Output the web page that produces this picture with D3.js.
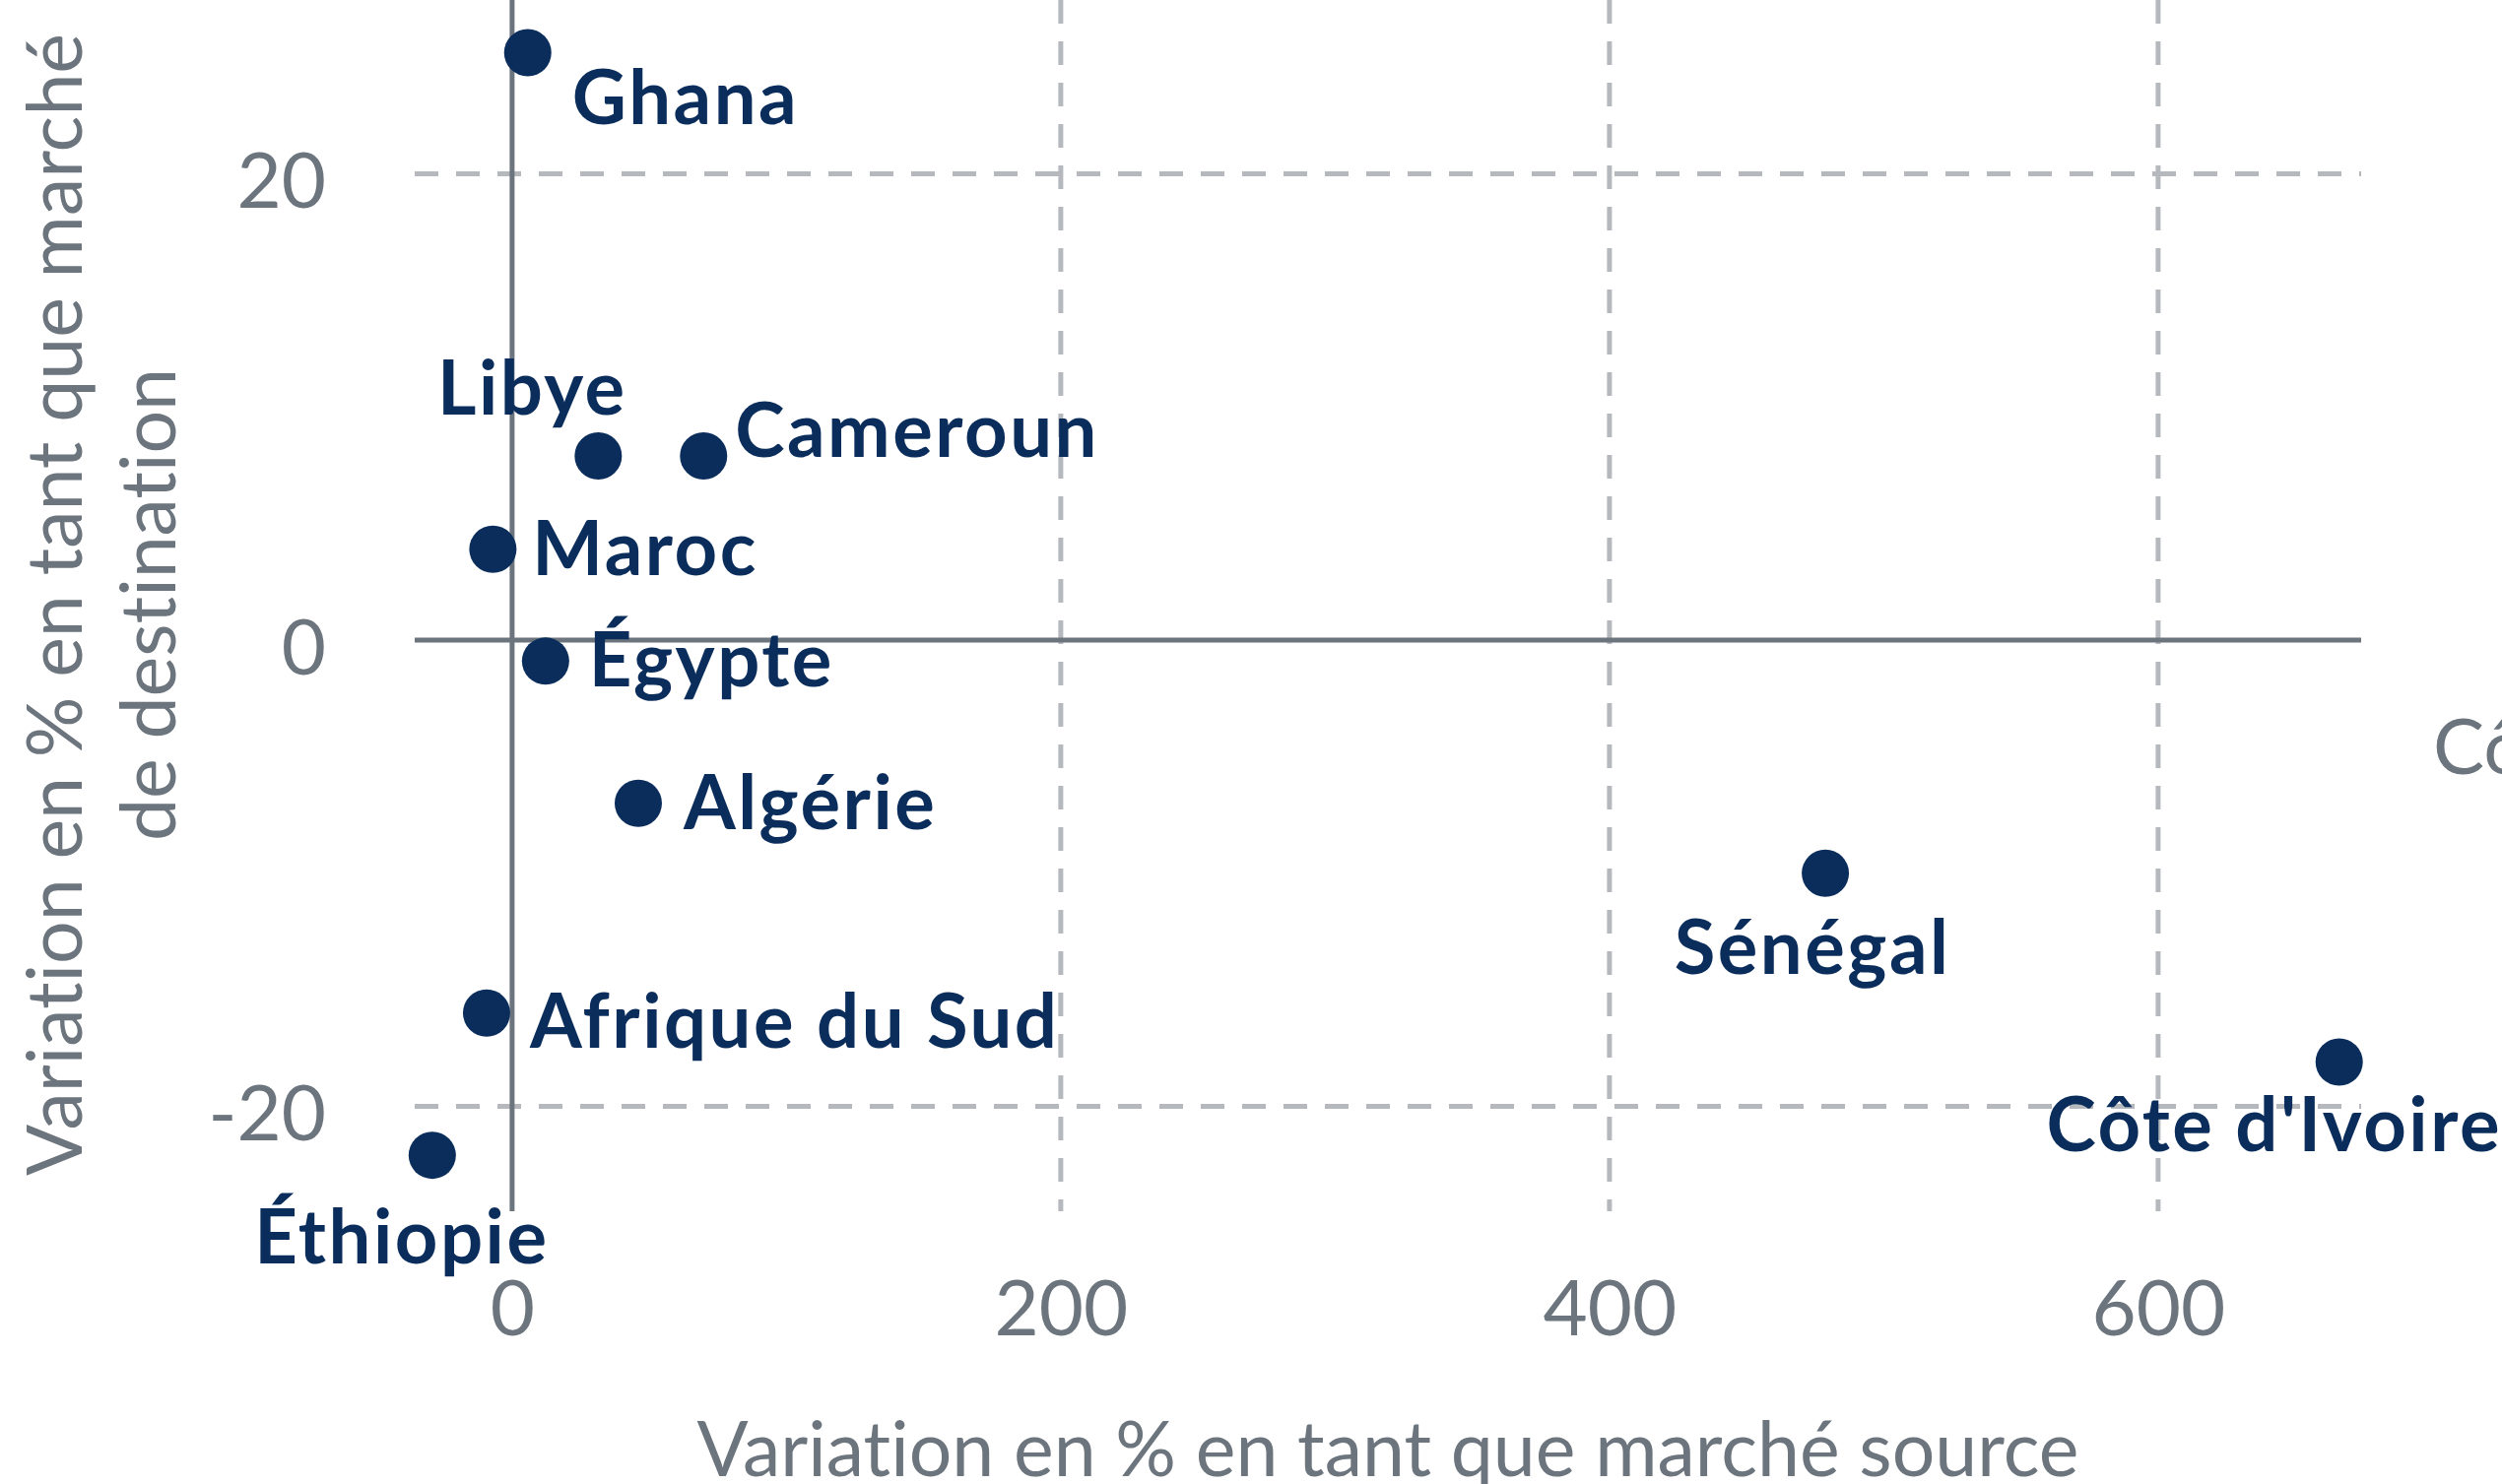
<!DOCTYPE html>
<html>
<head>
<meta charset="utf-8">
<script src="https://cdn.jsdelivr.net/npm/d3@7"></script>
<style>
  html, body { margin: 0; padding: 0; background: #fff; overflow: hidden; }
  svg { display: block; font-family: Lato, "Open Sans", sans-serif; font-variant-ligatures: none; }
</style>
</head>
<body>
<svg id="chart" width="2540" height="1507"></svg>
<script>
// Variation en % : marché source (x) vs marché de destination (y)

// -----------------------------------------------------------------------------
// DATA
// -----------------------------------------------------------------------------

const countries = ['Ghana', 'Libye', 'Cameroun', 'Maroc', 'Égypte', 'Algérie',
                   'Afrique du Sud', 'Éthiopie', 'Sénégal', "Côte d'Ivoire"];
const sourceChange = [5.7, 31.4, 69.8, -7.0, 12.2, 46.0, -9.3, -29.1, 478.7, 666.0];
const destChange   = [25.2, 7.9, 7.9, 3.9, -0.9, -7.0, -16.0, -22.1, -10.0, -18.1];

const xTicks = [0, 200, 400, 600];
const yTicks = [-20, 0, 20];

const xTitle = 'Variation en % en tant que marché source';
const yTitle = ['Variation en % en tant que marché', 'de destination'];

// -----------------------------------------------------------------------------
// LAYOUT
// -----------------------------------------------------------------------------

const COLORS = { point: '#0a2d5c', axis: '#6c757d', grid: '#b5b8bd' };
const FONT = 78;
const plot = { left: 421, right: 2397, top: 0, bottom: 1230 };

// where each label sits relative to its dot
const LABEL_POS = {
  'Ghana':          { anchor: 'start',  dx: 45,  dy: 73 },
  'Libye':          { anchor: 'middle', dx: -67, dy: -42 },
  'Cameroun':       { anchor: 'start',  dx: 32,  dy: 1 },
  'Maroc':          { anchor: 'start',  dx: 40,  dy: 26 },
  'Égypte':         { anchor: 'start',  dx: 44,  dy: 26 },
  'Algérie':        { anchor: 'start',  dx: 46,  dy: 26 },
  'Afrique du Sud': { anchor: 'start',  dx: 44,  dy: 35 },
  'Éthiopie':       { anchor: 'middle', dx: -31, dy: 110 },
  'Sénégal':        { anchor: 'middle', dx: -13, dy: 102 },
  "Côte d'Ivoire":  { anchor: 'middle', dx: -66, dy: 91 }
};

const points = countries.map((c, i) => ({ name: c, x: sourceChange[i], y: destChange[i] }));

const svg = d3.select('#chart');

const x = d3.scaleLinear().domain([-35.5, 674]).range([plot.left, plot.right]);
const y = d3.scaleLinear().domain([-24.5, 27.46]).range([plot.bottom, plot.top]);

// -----------------------------------------------------------------------------
// GRID
// -----------------------------------------------------------------------------

svg.append('g').selectAll('line')
  .data(xTicks.filter(t => t !== 0))
  .join('line')
  .attr('x1', d => x(d)).attr('x2', d => x(d))
  .attr('y1', plot.top).attr('y2', plot.bottom)
  .attr('stroke', COLORS.grid).attr('stroke-width', 5)
  .attr('stroke-dasharray', '24 18');

svg.append('g').selectAll('line')
  .data(yTicks.filter(t => t !== 0))
  .join('line')
  .attr('x1', plot.left).attr('x2', plot.right)
  .attr('y1', d => y(d)).attr('y2', d => y(d))
  .attr('stroke', COLORS.grid).attr('stroke-width', 5)
  .attr('stroke-dasharray', '24 18');

// zero lines
svg.append('line')
  .attr('x1', plot.left).attr('x2', plot.right)
  .attr('y1', y(0)).attr('y2', y(0))
  .attr('stroke', COLORS.axis).attr('stroke-width', 5);
svg.append('line')
  .attr('x1', x(0)).attr('x2', x(0))
  .attr('y1', plot.top).attr('y2', plot.bottom)
  .attr('stroke', COLORS.axis).attr('stroke-width', 5);

// -----------------------------------------------------------------------------
// AXES
// -----------------------------------------------------------------------------

const xAxis = svg.append('g')
  .attr('transform', `translate(0,${plot.bottom})`)
  .call(d3.axisBottom(x).tickValues(xTicks).tickSize(0).tickPadding(71).tickFormat(d3.format('d')));
const yAxis = svg.append('g')
  .attr('transform', `translate(${plot.left},0)`)
  .call(d3.axisLeft(y).tickValues(yTicks).tickSize(0).tickPadding(90).tickFormat(d => d < 0 ? '-' + Math.abs(d) : d));

[xAxis, yAxis].forEach(g => {
  g.select('.domain').remove();
  g.selectAll('text')
    .attr('font-family', 'Lato, sans-serif')
    .attr('font-size', FONT)
    .attr('fill', COLORS.axis);
});
yAxis.selectAll('text').attr('dy', '0.44em');

svg.append('text')
  .attr('x', (plot.left + plot.right) / 2)
  .attr('y', 1499)
  .attr('text-anchor', 'middle')
  .attr('font-size', 77)
  .attr('fill', COLORS.axis)
  .text(xTitle);

const yt = svg.append('text')
  .attr('transform', 'translate(83,614) rotate(-90)')
  .attr('text-anchor', 'middle')
  .attr('font-size', 77)
  .attr('fill', COLORS.axis);
yTitle.forEach((line, i) => {
  yt.append('tspan').attr('x', 0).attr('y', i * 95).text(line);
});

// side note, runs off the right edge
svg.append('text')
  .attr('x', 2470).attr('y', 786)
  .attr('font-size', FONT)
  .attr('fill', COLORS.axis)
  .text("Côte d'Ivoire");

// -----------------------------------------------------------------------------
// POINTS
// -----------------------------------------------------------------------------

svg.append('g').selectAll('circle')
  .data(points)
  .join('circle')
  .attr('cx', d => x(d.x))
  .attr('cy', d => y(d.y))
  .attr('r', 24)
  .attr('fill', COLORS.point);

svg.append('g').selectAll('text')
  .data(points)
  .join('text')
  .attr('x', d => x(d.x) + LABEL_POS[d.name].dx)
  .attr('y', d => y(d.y) + LABEL_POS[d.name].dy)
  .attr('text-anchor', d => LABEL_POS[d.name].anchor)
  .attr('font-size', 76)
  .attr('font-weight', 700)
  .attr('letter-spacing', 2.5)
  .attr('fill', COLORS.point)
  .text(d => d.name);
</script>
</body>
</html>
